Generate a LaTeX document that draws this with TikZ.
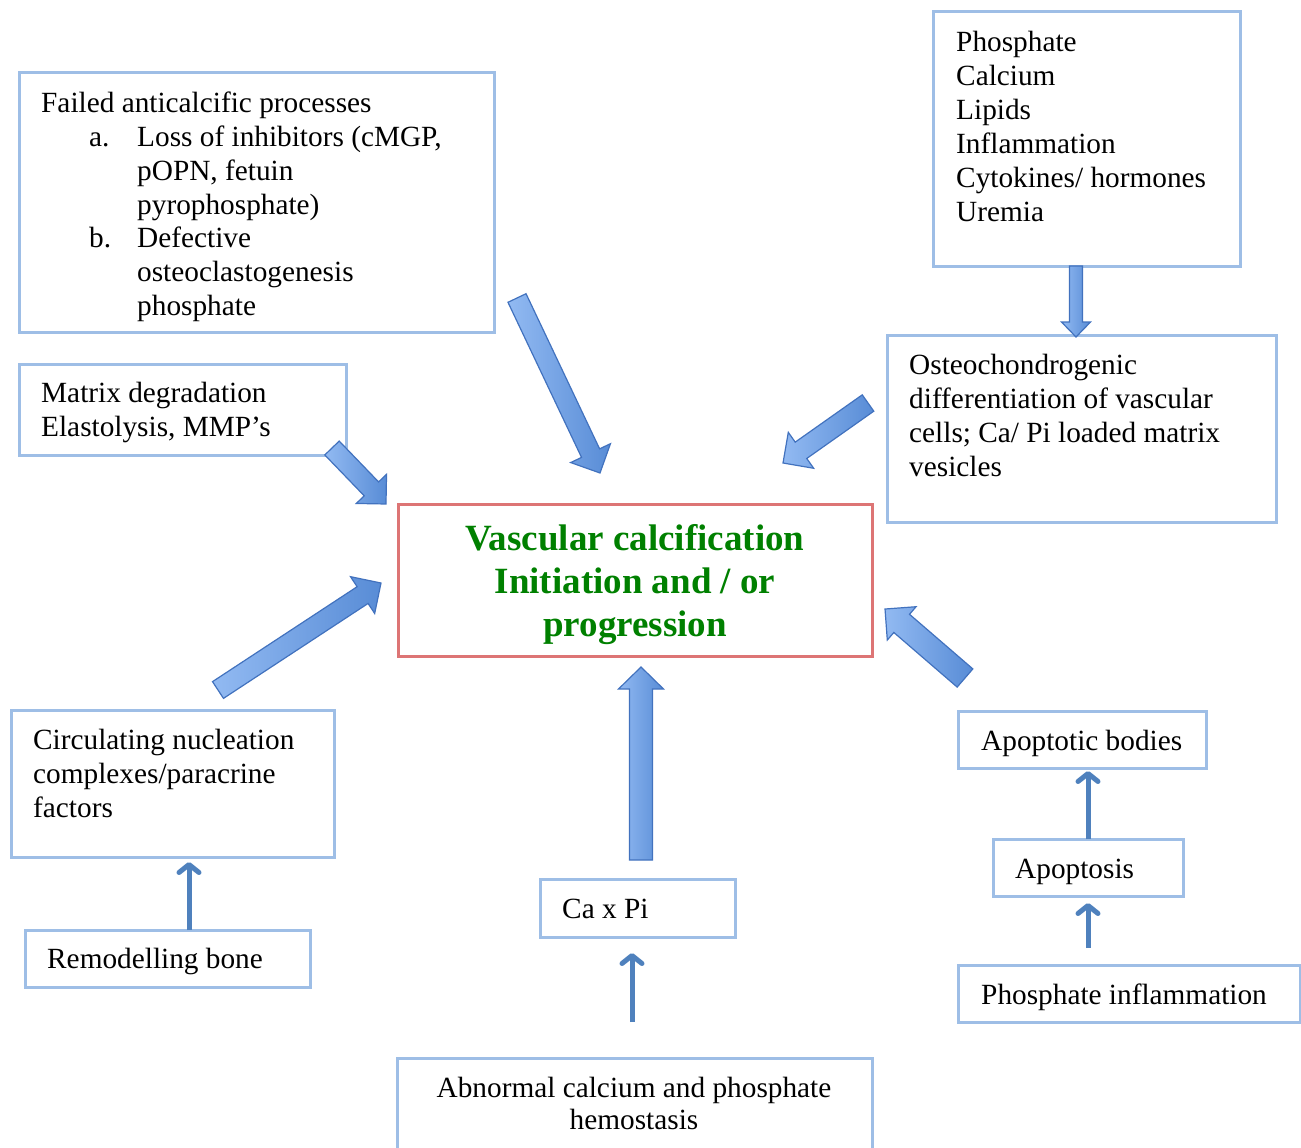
\documentclass[tikz,border=0pt]{standalone}
\usepackage{fontspec}
\setmainfont{Liberation Serif}
\usetikzlibrary{calc,arrows.meta}
\definecolor{boxblue}{RGB}{158,190,230}
\definecolor{boxred}{RGB}{221,117,117}
\definecolor{titlegreen}{RGB}{0,128,0}
\definecolor{arrlight}{RGB}{146,186,242}
\definecolor{arrdark}{RGB}{88,140,214}
\definecolor{arrline}{RGB}{66,114,190}
\definecolor{thinarr}{RGB}{79,129,189}
\newcommand{\blkarr}[5]{%
  \path let \p1=($(#2)-(#1)$) in \pgfextra{%
    \pgfmathsetmacro\myang{atan2(\y1,\x1)}%
    \pgfmathsetmacro\mylen{veclen(\x1,\y1)}%
    \global\let\gang\myang \global\let\glen\mylen};
  \begin{scope}[shift={(#1)}, rotate=\gang]
    \draw[blockarrow, shading angle=90]
      (0pt,-#3pt) -- ({\glen pt-#5pt},-#3pt) -- ({\glen pt-#5pt},-#4pt)
      -- (\glen pt,0pt) -- ({\glen pt-#5pt},#4pt) -- ({\glen pt-#5pt},#3pt)
      -- (0pt,#3pt) -- cycle;
  \end{scope}}
\begin{document}
\begin{tikzpicture}[x=1pt,y=-1pt,
  box/.style={draw=boxblue, line width=3pt, inner sep=0pt, outer sep=0pt, anchor=north west},
  redbox/.style={draw=boxred, line width=3pt, inner sep=0pt, outer sep=0pt, anchor=north west},
  txt/.style={font=\fontsize{29.3}{34}\selectfont, inner sep=0pt, anchor=base west, align=left},
  title/.style={font=\fontsize{37}{43}\selectfont\bfseries, text=titlegreen, inner sep=0pt, anchor=base, align=center},
  blockarrow/.style={draw=arrline, line width=1.2pt, line join=miter, left color=arrlight, right color=arrdark},
  thinarrow/.style={draw=thinarr, line width=5pt, -{Straight Barb[length=8pt,width=20pt,line cap=round,line join=round]}}
]
\useasboundingbox (0,0) rectangle (1301,1148);

% boxes
\node[box, minimum width=475pt, minimum height=259pt] (failed) at (19,73) {};
\node[box, minimum width=307pt, minimum height=254pt] (phos) at (933,12) {};
\node[box, minimum width=327pt, minimum height=91pt] (matrix) at (19,364) {};
\node[box, minimum width=389pt, minimum height=187pt] (osteo) at (887,335) {};
\node[redbox, minimum width=474pt, minimum height=152pt] (central) at (398,504) {};
\node[box, minimum width=323pt, minimum height=147pt] (circ) at (11,710) {};
\node[box, minimum width=285pt, minimum height=57pt] (remodel) at (25,930) {};
\node[box, minimum width=195pt, minimum height=58pt] (caxpi) at (540,879) {};
\node[box, minimum width=475pt, minimum height=92pt] (abn) at (397,1058) {};
\node[box, minimum width=248pt, minimum height=57pt] (apbodies) at (958,711) {};
\node[box, minimum width=190pt, minimum height=57pt] (apoptosis) at (993,839) {};
\node[box, minimum width=342pt, minimum height=57pt] (phosinf) at (958,965) {};

% texts (anchor base = baseline of the last line)
\node[txt] (t-failed) at (41,112) {Failed anticalcific processes};
\node[txt] (t-a) at (89,146) {a.};
\node[txt] (t-aitem) at (137,214) {Loss of inhibitors (cMGP,\\pOPN, fetuin\\pyrophosphate)};
\node[txt] (t-b) at (89,247) {b.};
\node[txt] (t-bitem) at (137,315) {Defective\\osteoclastogenesis\\phosphate};
\node[txt] (t-phos) at (956,221) {Phosphate\\Calcium\\Lipids\\Inflammation\\Cytokines/ hormones\\Uremia};
\node[txt] (t-matrix) at (41,436) {Matrix degradation\\Elastolysis, MMP’s};
\node[txt] (t-osteo) at (909,476) {Osteochondrogenic\\differentiation of vascular\\cells; Ca/ Pi loaded matrix\\vesicles};
\node[title] (t-central) at (635,636) {Vascular calcification\\Initiation and / or\\progression};
\node[txt] (t-circ) at (33,817) {Circulating nucleation\\complexes/paracrine\\factors};
\node[txt] (t-remodel) at (47,968) {Remodelling bone};
\node[txt] (t-caxpi) at (562,918) {Ca x Pi};
\node[txt, align=center, anchor=base, font=\fontsize{29.3}{32}\selectfont] (t-abn) at (634,1129) {Abnormal calcium and phosphate\\hemostasis};
\node[txt] (t-apbodies) at (981,750) {Apoptotic bodies};
\node[txt] (t-apoptosis) at (1015,878) {Apoptosis};
\node[txt] (t-phosinf) at (981,1004) {Phosphate inflammation};

% block arrow end points
\coordinate (a1) at (517,298); \coordinate (a2) at (600,473);
\coordinate (b1) at (332,448); \coordinate (b2) at (386,504);
\coordinate (c1) at (868,403); \coordinate (c2) at (783,463);
\coordinate (d1) at (1076,266); \coordinate (d2) at (1076,337);
\coordinate (e1) at (218,690); \coordinate (e2) at (381,583);
\coordinate (f1) at (641,860); \coordinate (f2) at (641,667);
\coordinate (g1) at (965,678); \coordinate (g2) at (885,609);

\blkarr{a1}{a2}{10}{22}{22}
\blkarr{b1}{b2}{10}{21}{21}
\blkarr{c1}{c2}{10}{22}{22}
\blkarr{d1}{d2}{6.5}{14.5}{15}
\blkarr{e1}{e2}{10}{22}{22}
\blkarr{f1}{f2}{11.5}{22.5}{22}
\blkarr{g1}{g2}{12}{22}{22}

% thin arrows
\draw[thinarrow, shorten >=5pt] ([xshift=21.5pt]remodel.north) -- ([xshift=21.5pt]remodel.north |- circ.south);
\draw[thinarrow, shorten <=36pt, shorten >=16pt] ([xshift=-2.5pt]abn.north) -- ([xshift=-2.5pt]abn.north |- caxpi.south);
\draw[thinarrow, shorten >=3pt] (apoptosis.north) -- (apoptosis.north |- apbodies.south);
\draw[thinarrow, shorten <=17pt, shorten >=7pt] (apoptosis.south |- phosinf.north) -- (apoptosis.south);
\end{tikzpicture}
\end{document}
